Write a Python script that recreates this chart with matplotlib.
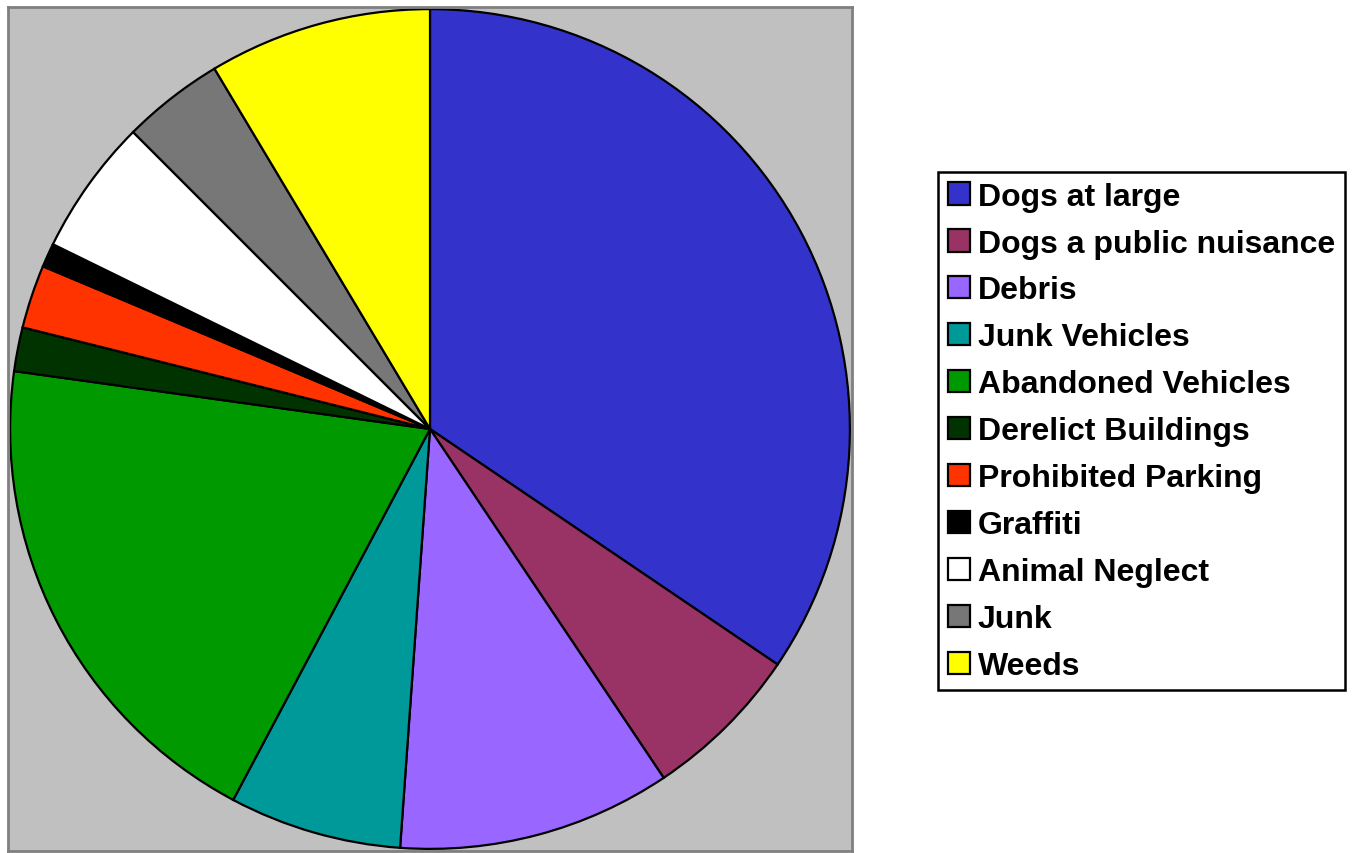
import numpy as np
import matplotlib.pyplot as plt
from matplotlib.patches import Patch

# categories and shares (percent)
labels = ["Dogs at large", "Dogs a public nuisance", "Debris", "Junk Vehicles",
          "Abandoned Vehicles", "Derelict Buildings", "Prohibited Parking",
          "Graffiti", "Animal Neglect", "Junk", "Weeds"]
shares = [34.48, 6.13, 10.53, 6.63, 19.44, 1.69, 2.44, 0.92, 5.25, 3.92, 8.58]
colors = ["#3333CC", "#993366", "#9966FF", "#009999", "#009900", "#003300",
          "#FF3300", "#000000", "#FFFFFF", "#777777", "#FFFF00"]

plt.rcParams['font.family'] = ['Liberation Sans', 'DejaVu Sans']

W, H = 1355, 854
fig = plt.figure(figsize=(W / 100, H / 100), dpi=100)
fig.patch.set_facecolor("white")

# gray plot area holding the pie
ax = fig.add_axes([8 / W, 2 / H, 844 / W, 844 / H])
ax.set_facecolor("#C0C0C0")
for s in ax.spines.values():
    s.set_color("#808080")
    s.set_linewidth(2)
ax.set_xticks([])
ax.set_yticks([])

wedges, _ = ax.pie(shares, colors=colors, startangle=90, counterclock=False,
                   radius=0.995, wedgeprops=dict(edgecolor="black", linewidth=1.6))
ax.set_xlim(-1.0, 1.0)
ax.set_ylim(-1.0, 1.0)
ax.set_aspect("equal")
ax.set_frame_on(True)

handles = [Patch(facecolor=c, edgecolor="black", linewidth=1.6) for c in colors]
leg = fig.legend(handles, labels, loc="upper left",
                 bbox_to_anchor=(938 / W, 1 - 173 / H),
                 prop=dict(weight="bold", size=23),
                 handlelength=0.7, handleheight=0.7, handletextpad=0.25,
                 labelspacing=0.53, borderpad=0.3, borderaxespad=0,
                 fancybox=False, frameon=True, framealpha=1)
leg.get_frame().set_edgecolor("black")
leg.get_frame().set_linewidth(1.8)

fig.savefig("out.png", dpi=100)
